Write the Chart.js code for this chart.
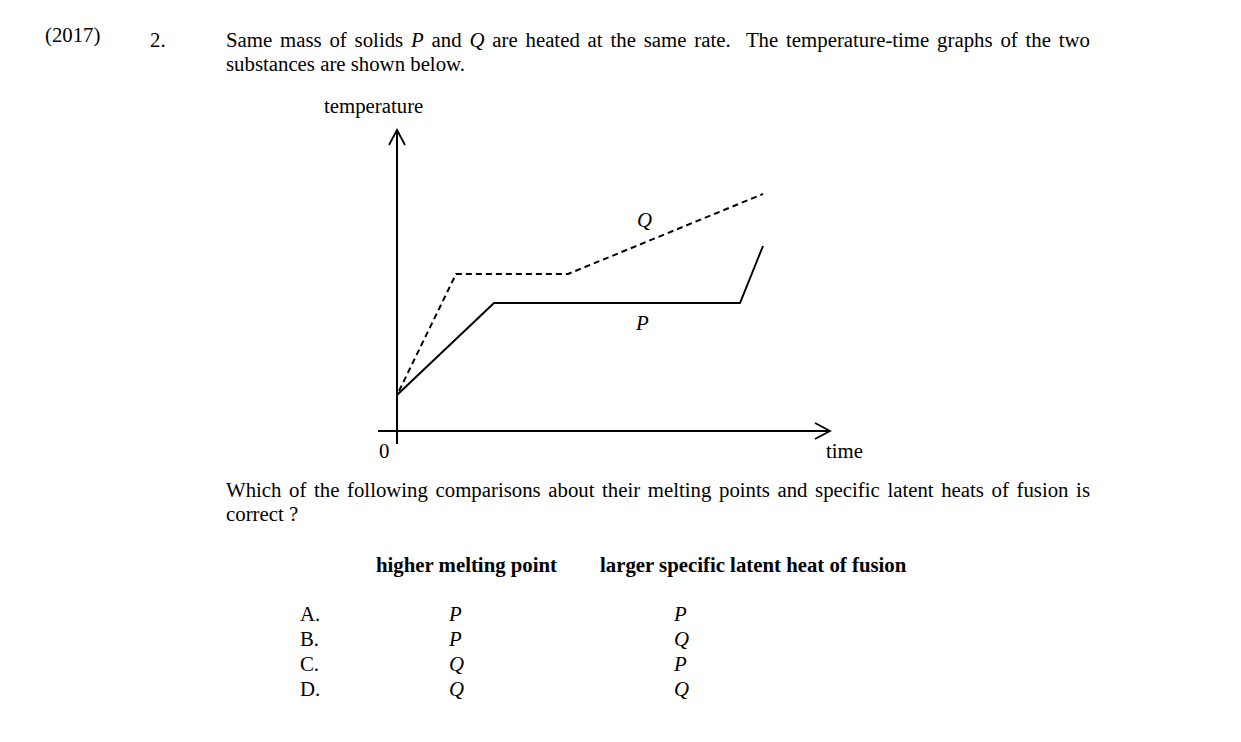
<!DOCTYPE html>
<html>
<head>
<meta charset="utf-8">
<script src="https://cdn.jsdelivr.net/npm/chart.js@4.4.0/dist/chart.umd.min.js"></script>
<style>
  html, body { margin:0; padding:0; background:#fff; }
  body { width:1241px; height:742px; position:relative; overflow:hidden;
         font-family:"Liberation Serif","Times New Roman",serif; font-size:20.8px; color:#000; }
  .t { position:absolute; white-space:nowrap; line-height:24px; }
  .jl { position:absolute; left:226px; width:864px; white-space:nowrap; line-height:24px;
        text-align:justify; text-align-last:justify; }
  i { font-style:italic; }
  b { font-weight:bold; }
  #wrap { position:absolute; left:357px; top:121px; width:500px; height:340px; }
</style>
</head>
<body>
<div class="t" style="left:45px; top:23px;">(2017)</div>
<div class="t" style="left:150px; top:28px;">2.</div>
<div class="jl" style="top:28px; white-space:normal;">Same mass of solids <i>P</i> and <i>Q</i> are heated at the same rate.&nbsp; The temperature-time graphs of the two</div>
<div class="t" style="left:226px; top:52px;">substances are shown below.</div>

<div class="t" style="left:324px; top:94px;">temperature</div>
<div class="t" style="left:379px; top:439px;">0</div>
<div class="t" style="left:826px; top:439px;">time</div>
<div class="t" style="left:637px; top:208px;"><i>Q</i></div>
<div class="t" style="left:636px; top:311px;"><i>P</i></div>

<div id="wrap"><canvas id="c" width="500" height="340"></canvas></div>

<div class="jl" style="top:478px; white-space:normal;">Which of the following comparisons about their melting points and specific latent heats of fusion is</div>
<div class="t" style="left:226px; top:502px;">correct ?</div>

<div class="t" style="left:376px; top:553px;"><b>higher melting point</b></div>
<div class="t" style="left:600px; top:553px;"><b>larger specific latent heat of fusion</b></div>

<div id="rows"></div>

<script>
// ---- data ----
const timeP = [0, 9.7, 34.3, 36.6];
const tempP = [3.6, 12.8, 12.8, 18.5];
const timeQ = [0.2, 5.9, 17.1, 36.6];
const tempQ = [4.0, 15.7, 15.7, 23.7];

const optionLetters = ["A.", "B.", "C.", "D."];
const meltingCol = ["P", "P", "Q", "Q"];
const latentCol = ["P", "Q", "P", "Q"];

// ---- option rows ----
const rows = document.getElementById('rows');
optionLetters.forEach((L, k) => {
  const top = 602 + k * 25;
  rows.insertAdjacentHTML('beforeend',
    `<div class="t" style="left:300px; top:${top}px;">${L}</div>` +
    `<div class="t" style="left:449px; top:${top}px;"><i>${meltingCol[k]}</i></div>` +
    `<div class="t" style="left:674px; top:${top}px;"><i>${latentCol[k]}</i></div>`);
});

// ---- axes plugin ----
const axesPlugin = {
  id: 'arrowAxes',
  beforeDatasetsDraw(chart) {
    const { ctx, scales: { x, y } } = chart;
    const X = v => x.getPixelForValue(v), Y = v => y.getPixelForValue(v);
    ctx.save();
    ctx.strokeStyle = '#000';
    ctx.lineWidth = 2;
    ctx.lineCap = 'butt';
    ctx.beginPath();
    ctx.moveTo(X(0), Y(-1.3)); ctx.lineTo(X(0), Y(30));
    ctx.moveTo(X(-1.9), Y(0)); ctx.lineTo(X(43.2), Y(0));
    ctx.stroke();
    ctx.lineWidth = 1.8;
    ctx.beginPath();
    ctx.moveTo(X(-0.8), Y(28.6)); ctx.lineTo(X(0), Y(30.1)); ctx.lineTo(X(0.8), Y(28.6));
    ctx.moveTo(X(41.8), Y(0.8)); ctx.lineTo(X(43.3), Y(0)); ctx.lineTo(X(41.8), Y(-0.8));
    ctx.stroke();
    ctx.restore();
  }
};

const toXY = (xs, ys) => xs.map((v, i) => ({ x: v, y: ys[i] }));

new Chart(document.getElementById('c'), {
  type: 'line',
  data: {
    datasets: [
      { label: 'P', data: toXY(timeP, tempP), borderColor: '#000', borderWidth: 2,
        pointRadius: 0, fill: false, tension: 0 },
      { label: 'Q', data: toXY(timeQ, tempQ), borderColor: '#000', borderWidth: 2,
        borderDash: [6, 4], pointRadius: 0, fill: false, tension: 0 }
    ]
  },
  options: {
    responsive: false,
    animation: false,
    devicePixelRatio: 1,
    layout: { padding: 0 },
    plugins: { legend: { display: false }, tooltip: { enabled: false } },
    scales: {
      x: { type: 'linear', display: false, min: -4, max: 46 },
      y: { type: 'linear', display: false, min: -3, max: 31 }
    }
  },
  plugins: [axesPlugin]
});
</script>
</body>
</html>
